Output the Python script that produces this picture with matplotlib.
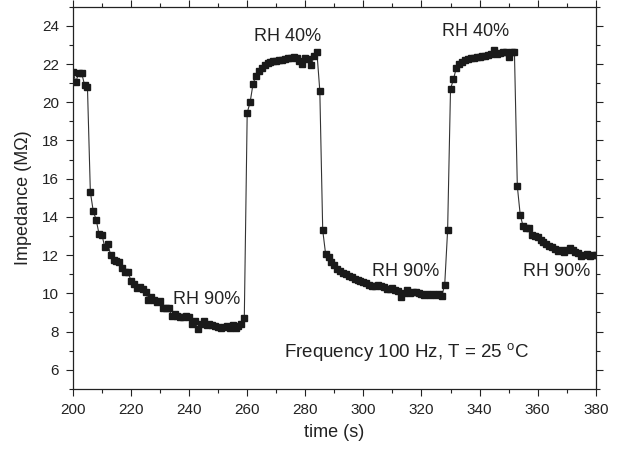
import matplotlib
matplotlib.use("Agg")
import matplotlib.pyplot as plt
from matplotlib.ticker import MultipleLocator

plt.rcParams["font.family"] = ["Liberation Sans", "DejaVu Sans"]
plt.rcParams["mathtext.fontset"] = "custom"
plt.rcParams["mathtext.rm"] = "Liberation Sans"

# sample times (s), one reading per second
TIME_S = list(range(200, 381))

# impedance readings (MOhm)
IMPEDANCE_MOHM = [
    # 200-259  RH 90%
    21.6, 21.05, 21.55, 21.55, 20.9, 20.8, 15.3, 14.3, 13.85, 13.1,
    13.05, 12.4, 12.6, 12.0, 11.75, 11.7, 11.65, 11.35, 11.1, 11.1,
    10.65, 10.5, 10.3, 10.35, 10.2, 10.05, 9.65, 9.8, 9.65, 9.55,
    9.6, 9.25, 9.25, 9.25, 8.8, 8.9, 8.8, 8.75, 8.75, 8.8,
    8.75, 8.4, 8.55, 8.15, 8.4, 8.55, 8.35, 8.4, 8.35, 8.3,
    8.25, 8.2, 8.25, 8.3, 8.2, 8.35, 8.2, 8.3, 8.4, 8.7,
    # 260-285  RH 40%
    19.45, 20.0, 20.95, 21.4, 21.65, 21.8, 21.95, 22.05, 22.1, 22.15,
    22.18, 22.2, 22.22, 22.25, 22.3, 22.32, 22.35, 22.3, 22.15, 21.98,
    22.3, 22.28, 21.93, 22.4, 22.62, 20.6,
    # 286-329  RH 90%
    13.3, 12.05, 11.9, 11.65, 11.5, 11.25, 11.15, 11.05, 11.0, 10.9,
    10.85, 10.75, 10.7, 10.65, 10.6, 10.52, 10.45, 10.38, 10.4, 10.42,
    10.4, 10.35, 10.22, 10.2, 10.27, 10.18, 10.1, 9.83, 10.0, 10.18,
    10.0, 10.05, 10.08, 10.0, 9.97, 9.92, 9.97, 9.92, 9.97, 9.92,
    9.95, 9.87, 10.45, 13.3,
    # 330-352  RH 40%
    20.7, 21.2, 21.8, 22.0, 22.12, 22.2, 22.25, 22.3, 22.32, 22.35,
    22.38, 22.4, 22.42, 22.45, 22.5, 22.72, 22.55, 22.6, 22.62, 22.65,
    22.35, 22.65, 22.65,
    # 353-380  RH 90%
    15.6, 14.1, 13.5, 13.42, 13.4, 13.05, 13.0, 12.95, 12.8, 12.7,
    12.6, 12.5, 12.4, 12.3, 12.2, 12.25, 12.15, 12.28, 12.38, 12.25,
    12.18, 12.12, 11.93, 12.02, 12.05, 11.93, 12.02, 11.98,
]

LABEL_TEXT = ["RH 40%", "RH 40%", "RH 90%", "RH 90%", "RH 90%"]
LABEL_X = [262.3, 327.0, 234.3, 302.8, 355.0]
LABEL_Y = [23.45, 23.7, 9.66, 11.13, 11.13]

fig = plt.figure(figsize=(6.18, 4.49), dpi=100)
ax = fig.add_axes([0.118, 0.134, 0.846, 0.851])

ax.plot(TIME_S, IMPEDANCE_MOHM, color="#333333", linewidth=0.8,
        marker="s", markersize=3.8, markerfacecolor="#1a1a1a",
        markeredgecolor="#1a1a1a")

for txt, x, y in zip(LABEL_TEXT, LABEL_X, LABEL_Y):
    ax.text(x, y, txt, fontsize=13, color="#222222", ha="left", va="center")

ax.text(272.8, 6.9, r"Frequency 100 Hz, T = 25 $^{\mathrm{o}}$C",
        fontsize=13.5, color="#222222", ha="left", va="center")

ax.set_xlim(200, 380)
ax.set_ylim(5, 25)
ax.xaxis.set_major_locator(MultipleLocator(20))
ax.xaxis.set_minor_locator(MultipleLocator(10))
ax.yaxis.set_major_locator(MultipleLocator(2))
ax.yaxis.set_minor_locator(MultipleLocator(1))
ax.set_yticks([6, 8, 10, 12, 14, 16, 18, 20, 22, 24])

ax.tick_params(which="both", direction="out", top=True, right=True,
               labeltop=False, labelright=False, width=0.8,
               color="#222222")
ax.tick_params(which="major", length=5, labelsize=11, pad=5,
               labelcolor="#222222")
ax.tick_params(which="minor", length=3)

for s in ax.spines.values():
    s.set_linewidth(0.9)
    s.set_color("#222222")

ax.set_xlabel("time (s)", fontsize=13, color="#222222", labelpad=5)
ax.set_ylabel("Impedance (M\u03a9)", fontsize=13, color="#222222", labelpad=7)

fig.savefig("out.png", dpi=100)
